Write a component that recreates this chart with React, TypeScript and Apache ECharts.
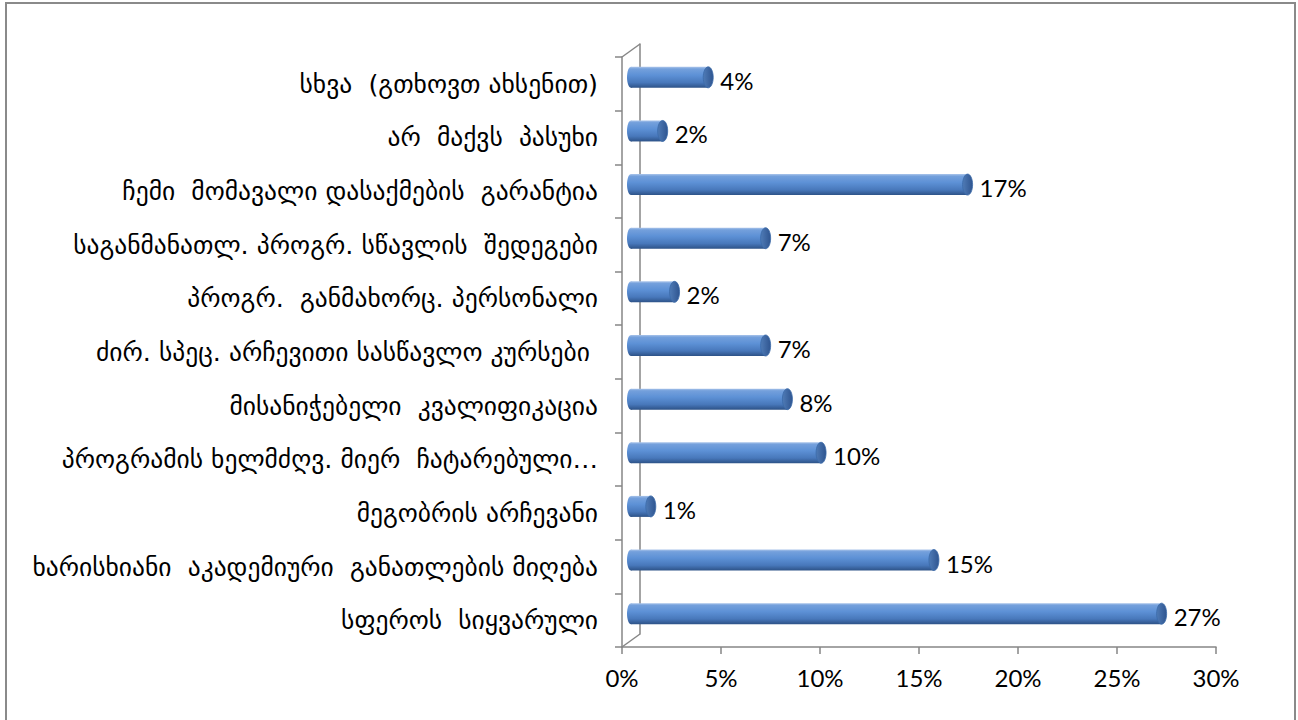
import React, { useEffect, useRef } from "react";
import * as echarts from "echarts";

const categories = [
  "სხვა  (გთხოვთ ახსენით)",
  "არ  მაქვს  პასუხი",
  "ჩემი  მომავალი დასაქმების  გარანტია",
  "საგანმანათლ. პროგრ. სწავლის  შედეგები",
  "პროგრ.  განმახორც. პერსონალი",
  "ძირ. სპეც. არჩევითი სასწავლო კურსები ",
  "მისანიჭებელი  კვალიფიკაცია",
  "პროგრამის ხელმძღვ. მიერ  ჩატარებული…",
  "მეგობრის არჩევანი",
  "ხარისხიანი  აკადემიური  განათლების მიღება",
  "სფეროს  სიყვარული",
];

const values = [3.9, 1.6, 17.0, 6.8, 2.2, 6.8, 7.9, 9.6, 1.0, 15.3, 26.8];

const axisMin = 0;
const axisMax = 30;
const axisStep = 5;

export default function App() {
  const ref = useRef<HTMLDivElement>(null);

  useEffect(() => {
    document.body.style.margin = "0";
    if (!ref.current) return;
    const chart = echarts.init(ref.current, undefined, { renderer: "svg" });

    const L = 622, T = 57, W = 594, H = 590;
    const DX = 18, DY = -13;
    const gray = "#868686";
    const labelFont = "Lato";

    const barGrad = new echarts.graphic.LinearGradient(0, 0, 0, 1, [
      { offset: 0, color: "#a9c4ea" },
      { offset: 0.1, color: "#74a0dc" },
      { offset: 0.4, color: "#5d91d6" },
      { offset: 0.75, color: "#4878bb" },
      { offset: 1, color: "#2d5287" },
    ]);
    const capGrad = new echarts.graphic.LinearGradient(0, 0, 1, 0, [
      { offset: 0, color: "#4f7bb6" },
      { offset: 1, color: "#2f5590" },
    ]);

    chart.setOption({
      animation: false,
      grid: [
        { left: L, top: T, width: W, height: H },
        { left: L + DX, top: T + DY, width: W, height: H },
        { left: L + DX / 2, top: T + DY / 2, width: W, height: H },
      ],
      xAxis: [
        {
          gridIndex: 0,
          type: "value",
          min: axisMin,
          max: axisMax,
          interval: axisStep,
          axisLine: { show: true, lineStyle: { color: gray, width: 1.5 } },
          axisTick: { show: true, length: 7, lineStyle: { color: gray, width: 1.5 } },
          splitLine: { show: false },
          axisLabel: {
            formatter: (v: number) => `${v}%`,
            color: "#000",
            fontFamily: labelFont,
            fontSize: 24,
            margin: 18,
          },
        },
        { gridIndex: 1, type: "value", min: axisMin, max: axisMax, show: false },
        { gridIndex: 2, type: "value", min: axisMin, max: axisMax, show: false },
      ],
      yAxis: [
        {
          gridIndex: 0,
          type: "category",
          inverse: true,
          data: categories,
          axisLine: { show: true, lineStyle: { color: gray, width: 1.5 } },
          axisTick: { show: true, length: 7, lineStyle: { color: gray, width: 1.5 } },
          axisLabel: {
            interval: 0,
            color: "#000",
            fontFamily: "DejaVu Sans",
            fontSize: 25.5,
            margin: 24,
          },
        },
        {
          gridIndex: 1,
          type: "category",
          inverse: true,
          data: categories,
          axisLine: { show: true, lineStyle: { color: gray, width: 1.5 } },
          axisTick: { show: false },
          axisLabel: { show: false },
        },
        {
          gridIndex: 2,
          type: "category",
          inverse: true,
          data: categories,
          show: false,
        },
      ],
      graphic: [
        {
          type: "rect",
          shape: { x: 6, y: 3, width: 1289, height: 740 },
          style: { fill: "none", stroke: "#8a8a8a", lineWidth: 2 },
          silent: true,
        },
        {
          type: "line",
          shape: { x1: L, y1: T, x2: L + DX, y2: T + DY },
          style: { stroke: gray, lineWidth: 1.5 },
          silent: true,
        },
        {
          type: "line",
          shape: { x1: L, y1: T + H, x2: L + DX, y2: T + H + DY },
          style: { stroke: gray, lineWidth: 1.5 },
          silent: true,
        },
      ],
      series: [
        {
          type: "custom",
          xAxisIndex: 2,
          yAxisIndex: 2,
          data: values.map((v, i) => [v, i]),
          renderItem: (params: any, api: any) => {
            const v = api.value(0);
            const idx = api.value(1);
            const s = api.coord([0, idx]);
            const e = api.coord([v, idx]);
            const h = 21;
            const rx = 5;
            return {
              type: "group",
              children: [
                {
                  type: "ellipse",
                  shape: { cx: s[0], cy: s[1], rx: rx - 1, ry: h / 2 },
                  style: { fill: barGrad },
                },
                {
                  type: "rect",
                  shape: { x: s[0], y: s[1] - h / 2, width: e[0] - s[0], height: h },
                  style: { fill: barGrad },
                },
                {
                  type: "ellipse",
                  shape: { cx: e[0], cy: s[1], rx, ry: h / 2 },
                  style: { fill: capGrad, stroke: "#3a6aa8", lineWidth: 0.8 },
                },
                {
                  type: "text",
                  style: {
                    text: `${Math.round(v)}%`,
                    x: e[0] + rx + 7,
                    y: s[1] + 3,
                    verticalAlign: "middle",
                    align: "left",
                    fontFamily: labelFont,
                    fontSize: 24,
                    fill: "#000",
                  },
                },
              ],
            };
          },
        },
      ],
    });

    return () => chart.dispose();
  }, []);

  return <div ref={ref} style={{ width: 1298, height: 720 }} />;
}
